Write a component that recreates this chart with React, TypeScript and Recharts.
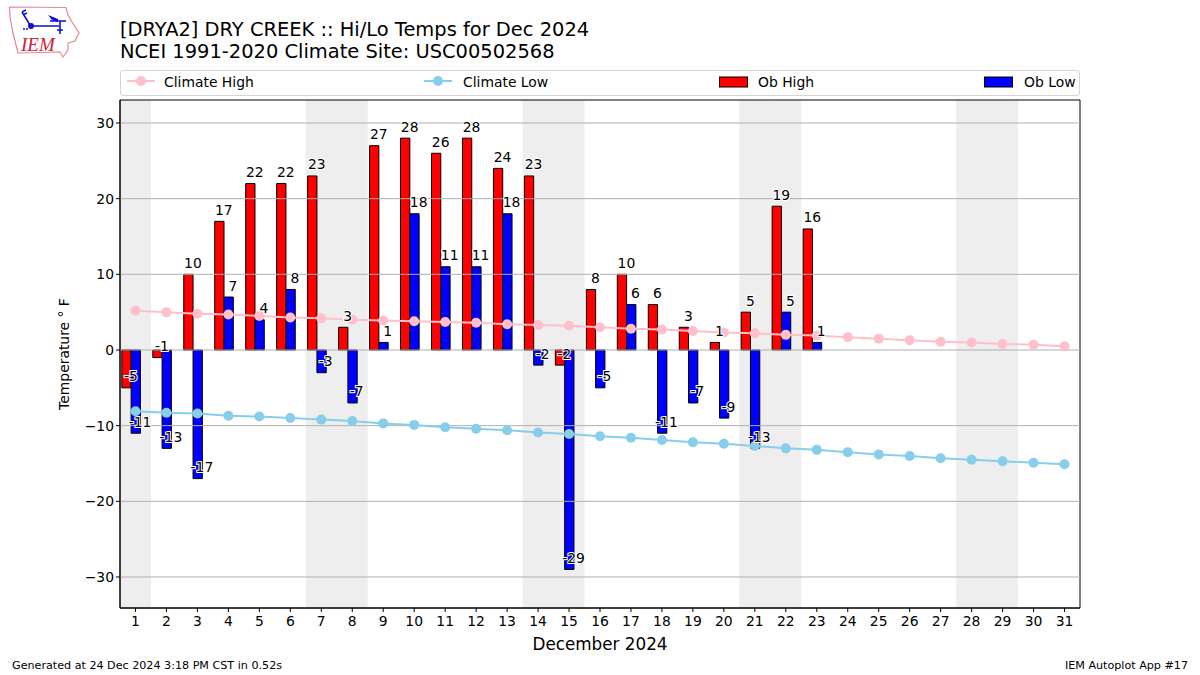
import React from 'react';
import {
  ComposedChart,
  Bar,
  Line,
  XAxis,
  YAxis,
  ReferenceArea,
  LabelList,
} from 'recharts';

const days = Array.from({ length: 31 }, (_, i) => i + 1);
const obHigh = [-5, -1, 10, 17, 22, 22, 23, 3, 27, 28, 26, 28, 24, 23, -2, 8, 10, 6, 3, 1, 5, 19, 16];
const obLow = [-11, -13, -17, 7, 4, 8, -3, -7, 1, 18, 11, 11, 18, -2, -29, -5, 6, -11, -7, -9, -13, 5, 1];
const climateHigh = [
  5.2, 5.0, 4.8, 4.7, 4.5, 4.3, 4.2, 4.0, 3.9, 3.8, 3.7, 3.6, 3.4, 3.3, 3.2, 3.0,
  2.8, 2.7, 2.5, 2.3, 2.2, 2.0, 1.9, 1.7, 1.5, 1.3, 1.1, 1.0, 0.8, 0.7, 0.5,
];
const climateLow = [
  -8.1, -8.3, -8.4, -8.7, -8.8, -9.0, -9.2, -9.4, -9.7, -9.9, -10.2, -10.4, -10.6, -10.9, -11.1, -11.4,
  -11.6, -11.9, -12.2, -12.4, -12.7, -13.0, -13.2, -13.5, -13.8, -14.0, -14.3, -14.5, -14.7, -14.9, -15.1,
];
const weekends = [
  [0.5, 1.5],
  [6.5, 8.5],
  [13.5, 15.5],
  [20.5, 22.5],
  [27.5, 29.5],
];
const yTicks = [-30, -20, -10, 0, 10, 20, 30];

const FONT = '"DejaVu Sans", sans-serif';
const BAR_W = 9.3;
const X_MIN = 0.5;
const X_MAX = 31.5;
const Y_MIN = -34.1;
const Y_MAX = 33.04;

const data = days.map((day, i) => ({
  day,
  high: obHigh[i] ?? null,
  low: obLow[i] ?? null,
  climHigh: climateHigh[i],
  climLow: climateLow[i],
}));

// labels sit just above the value point, white halo like the matplotlib path effect
function valueLabel(dx: number) {
  return (props: any) => {
    const { x, y, value } = props;
    if (value === null || value === undefined) return null;
    return (
      <text
        x={x + dx}
        y={y - 6.5}
        textAnchor="middle"
        fontFamily={FONT}
        fontSize={13.9}
        fill="#000"
        stroke="#fff"
        strokeWidth={2}
        paintOrder="stroke"
      >
        {value}
      </text>
    );
  };
}

function LegendBox() {
  const text = { position: 'absolute', top: 2, fontSize: 13.9, lineHeight: '18px' } as React.CSSProperties;
  return (
    <div
      style={{
        position: 'absolute',
        left: 120,
        top: 70,
        width: 958,
        height: 23.5,
        border: '1px solid #d5d5d5',
        borderRadius: 3,
        fontFamily: FONT,
        color: '#000',
      }}
    >
      <svg width={958} height={24} style={{ position: 'absolute', left: 0, top: 0 }}>
        <line x1={6} x2={34} y1={10} y2={10} stroke="#ffc0cb" strokeWidth={2} />
        <circle cx={20} cy={10} r={5} fill="#ffc0cb" />
        <line x1={303} x2={331} y1={10} y2={10} stroke="#87ceeb" strokeWidth={2} />
        <circle cx={317} cy={10} r={5} fill="#87ceeb" />
        <rect x={598.5} y={6} width={28} height={10} fill="#ff0000" stroke="#000" />
        <rect x={863.5} y={6} width={28} height={10} fill="#0000ff" stroke="#000" />
      </svg>
      <span style={{ ...text, left: 43 }}>Climate High</span>
      <span style={{ ...text, left: 342 }}>Climate Low</span>
      <span style={{ ...text, left: 637 }}>Ob High</span>
      <span style={{ ...text, left: 903 }}>Ob Low</span>
    </div>
  );
}

function Logo() {
  return (
    <svg width={90} height={65} style={{ position: 'absolute', left: 0, top: 0 }}>
      <path
        d="M9.5 7 L66 7.5 L68 15 L72 22 L77 30 L79 33 L75 41 L68 43 L68 50 L63 57 L60 52 L18 53 L13 33 L10 17 Z"
        fill="#fff"
        stroke="#e08a92"
        strokeWidth={1.2}
      />
      <path d="M33 26 L59 26 M50 21 L66 21 M60 21 L60 34 M22 12 L30 25 M22 12 L26 10 M23 15 L27 13 M57 30 L63 30" fill="none" stroke="#1010d0" strokeWidth={1.6} />
      <path d="M48 15 L58 19 L58 22 L52 20 Z" fill="#1010d0" />
      <circle cx={31} cy={26} r={3} fill="#1010d0" />
      <circle cx={24} cy={29} r={1} fill="#1010d0" />
      <circle cx={27} cy={29} r={1} fill="#1010d0" />
      <text x={21} y={51} fontFamily='"Liberation Serif", serif' fontStyle="italic" fontSize={19} fill="#d02030">
        IEM
      </text>
    </svg>
  );
}

export default function App() {
  return (
    <div style={{ position: 'absolute', left: 0, top: 0, width: 1200, height: 675, background: '#fff', overflow: 'hidden' }}>
      <Logo />
      <div style={{ position: 'absolute', left: 120, top: 19, fontFamily: FONT, fontSize: 19.45, lineHeight: '22px', color: '#000', whiteSpace: 'nowrap' }}>
        <div>[DRYA2] DRY CREEK :: Hi/Lo Temps for Dec 2024</div>
        <div>NCEI 1991-2020 Climate Site: USC00502568</div>
      </div>
      <LegendBox />
      <ComposedChart
        width={1200}
        height={675}
        data={data}
        margin={{ top: 100, right: 120, bottom: 37, left: 60 }}
        barGap={0}
        barSize={BAR_W}
      >
        {weekends.map(([a, b]) => (
          <ReferenceArea key={a} xAxisId="days" yAxisId="temp" x1={a} x2={b} fill="#eeeeee" fillOpacity={1} stroke="none" />
        ))}
        <XAxis
          xAxisId="days"
          dataKey="day"
          type="number"
          domain={[X_MIN, X_MAX]}
          ticks={days}
          interval={0}
          height={30}
          tick={{ fill: '#000', fontSize: 13.9, fontFamily: FONT }}
          tickLine={{ stroke: '#000' }}
          tickSize={4}
          tickMargin={4}
          axisLine={{ stroke: '#000' }}
          allowDataOverflow
          label={{ value: 'December 2024', position: 'insideBottom', offset: -12, fill: '#000', fontSize: 16.8, fontFamily: FONT }}
        />
        {/* bars hang off a second axis shifted ~0.15 day so the pair lands on x-0.3 and x */}
        <XAxis xAxisId="bars" orientation="top" height={0} dataKey="day" type="number" domain={[0.635, 31.635]} hide allowDataOverflow />
        <YAxis
          yAxisId="temp"
          type="number"
          domain={[Y_MIN, Y_MAX]}
          ticks={yTicks}
          interval={0}
          width={60}
          tick={{ fill: '#000', fontSize: 13.9, fontFamily: FONT }}
          tickFormatter={(v: number) => String(v).replace('-', '\u2212')}
          tickLine={{ stroke: '#000' }}
          tickSize={4}
          axisLine={{ stroke: '#000' }}
          allowDataOverflow
          label={{ value: 'Temperature \u00b0 F', angle: -90, position: 'insideLeft', offset: 4, fill: '#000', fontSize: 13.9, fontFamily: FONT, style: { textAnchor: 'middle' } }}
        />
        <Bar xAxisId="bars" yAxisId="temp" dataKey="high" fill="#ff0000" stroke="#000" strokeWidth={1} isAnimationActive={false} />
        <Bar xAxisId="bars" yAxisId="temp" dataKey="low" fill="#0000ff" stroke="#000" strokeWidth={1} isAnimationActive={false} />
        {/* gridlines as two-point lines: the reference draws them over the bars but under the climate lines */}
        {yTicks.map((t) => (
          <Line
            key={t}
            xAxisId="days"
            yAxisId="temp"
            data={[{ day: X_MIN, grid: t }, { day: X_MAX, grid: t }]}
            dataKey="grid"
            stroke="#b0b0b0"
            strokeWidth={1}
            dot={false}
            isAnimationActive={false}
          />
        ))}
        <Line xAxisId="days" yAxisId="temp" dataKey="climHigh" stroke="#ffc0cb" strokeWidth={2} dot={{ r: 5, fill: '#ffc0cb', stroke: '#ffc0cb', strokeWidth: 0 }} isAnimationActive={false} />
        <Line xAxisId="days" yAxisId="temp" dataKey="climLow" stroke="#87ceeb" strokeWidth={2} dot={{ r: 5, fill: '#87ceeb', stroke: '#87ceeb', strokeWidth: 0 }} isAnimationActive={false} />
        {/* invisible lines only carry the value labels so they stay on top */}
        <Line xAxisId="days" yAxisId="temp" dataKey="high" stroke="none" dot={false} isAnimationActive={false}>
          <LabelList dataKey="high" content={valueLabel(-4.5)} />
        </Line>
        <Line xAxisId="days" yAxisId="temp" dataKey="low" stroke="none" dot={false} isAnimationActive={false}>
          <LabelList dataKey="low" content={valueLabel(4.5)} />
        </Line>
        {/* axes frame, closes the top and right edges */}
        <ReferenceArea xAxisId="days" yAxisId="temp" x1={X_MIN} x2={X_MAX} y1={Y_MIN} y2={Y_MAX} fill="none" stroke="#000" strokeWidth={1} />
      </ComposedChart>
      <div style={{ position: 'absolute', left: 12, top: 659, fontFamily: FONT, fontSize: 11.15, lineHeight: '14px', color: '#000' }}>
        Generated at 24 Dec 2024 3:18 PM CST in 0.52s
      </div>
      <div style={{ position: 'absolute', right: 12, top: 659, fontFamily: FONT, fontSize: 11.15, lineHeight: '14px', color: '#000' }}>
        IEM Autoplot App #17
      </div>
    </div>
  );
}
